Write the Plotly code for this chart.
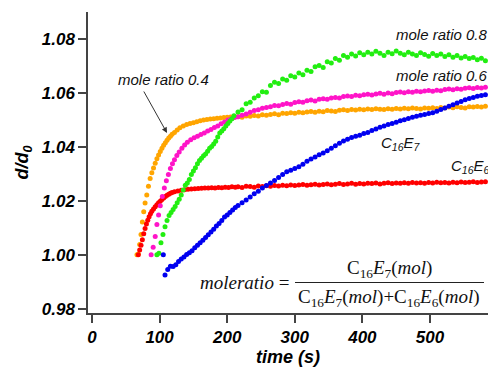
import plotly.graph_objects as go

# ---------------- data ----------------
T_LATE = [216, 222, 228, 234, 240, 246, 252, 258, 264, 270,
          276, 282, 288, 294, 300, 306, 312, 318, 324, 330,
          336, 342, 348, 354, 360, 366, 372, 378, 384, 390,
          396, 402, 408, 414, 420, 426, 432, 438, 444, 450,
          456, 462, 468, 474, 480, 486, 492, 498, 504, 510,
          516, 522, 528, 534, 540, 546, 552, 558, 564, 570,
          576, 582]

# mole ratio 0.4 (orange)
ORANGE_T_EARLY = [66.5, 68.5, 70.5, 72.5, 74.5, 76.5, 78.5, 81, 83.5, 86, 88.5, 91, 93.5, 96,
                  98.5, 101, 103.5, 106, 108.5, 111, 113.5, 116, 118.5,
                  122, 126, 130, 135, 140, 145, 150, 155, 160, 165, 170, 175, 180, 185, 190,
                  195, 200, 205, 210]
ORANGE_Y_EARLY = [1.0000, 1.0003, 1.0038, 1.0075, 1.0122, 1.0160, 1.0192, 1.0222, 1.0254, 1.0283,
                  1.0304, 1.0322, 1.0340, 1.0356, 1.0370, 1.0383, 1.0395, 1.0406, 1.0416, 1.0425,
                  1.0433, 1.0440, 1.0447,
                  1.0454, 1.0463, 1.0471, 1.0478, 1.0483, 1.0487, 1.0490, 1.0494, 1.0497, 1.0500,
                  1.0502, 1.0504, 1.0505, 1.0507, 1.0508, 1.0509, 1.0510, 1.0511, 1.0511]
ORANGE_Y_LATE = [1.0512, 1.0510, 1.0515, 1.0514, 1.0517, 1.0515, 1.0520, 1.0518, 1.0521, 1.0523,
                 1.0520, 1.0525, 1.0524, 1.0527, 1.0525, 1.0529, 1.0527, 1.0530, 1.0532, 1.0529,
                 1.0533, 1.0531, 1.0535, 1.0534, 1.0532, 1.0536, 1.0538, 1.0535, 1.0539, 1.0537,
                 1.0540, 1.0538, 1.0541, 1.0539, 1.0542, 1.0540, 1.0539, 1.0542, 1.0540, 1.0543,
                 1.0541, 1.0544, 1.0542, 1.0545, 1.0543, 1.0541, 1.0545, 1.0544, 1.0546, 1.0543,
                 1.0547, 1.0545, 1.0548, 1.0546, 1.0549, 1.0547, 1.0545, 1.0549, 1.0548, 1.0550,
                 1.0548, 1.0551]

# C16E6 (red)
RED_T_EARLY = [68.5, 70.5, 72.5, 74.5, 76.5, 78.5, 80.5, 82.5, 84.5, 86.5, 88.5, 91, 93.5, 96,
               98.5, 101, 103.5, 106, 108.5, 111, 113.5, 116, 118.5,
               122, 127, 132, 137, 142, 147, 152, 157, 162, 167, 172, 177, 182, 187, 192,
               197, 202, 207, 212]
RED_Y_EARLY = [1.0000, 1.0018, 1.0035, 1.0056, 1.0078, 1.0097, 1.0114, 1.0128, 1.0141, 1.0152,
               1.0161, 1.0170, 1.0178, 1.0186, 1.0193, 1.0199, 1.0205, 1.0211, 1.0216, 1.0221,
               1.0225, 1.0228, 1.0231,
               1.0234, 1.0237, 1.0239, 1.0241, 1.0243, 1.0244, 1.0245, 1.0246, 1.0247, 1.0248,
               1.0248, 1.0249, 1.0248, 1.0250, 1.0249, 1.0251, 1.0250, 1.0252, 1.0251]
RED_Y_LATE = [1.0252, 1.0250, 1.0254, 1.0253, 1.0251, 1.0255, 1.0253, 1.0256, 1.0254, 1.0257,
              1.0255, 1.0258, 1.0256, 1.0259, 1.0257, 1.0259, 1.0261, 1.0258, 1.0260, 1.0262,
              1.0259, 1.0261, 1.0263, 1.0260, 1.0262, 1.0264, 1.0261, 1.0263, 1.0265, 1.0262,
              1.0264, 1.0263, 1.0265, 1.0264, 1.0266, 1.0263, 1.0265, 1.0267, 1.0264, 1.0266,
              1.0265, 1.0267, 1.0265, 1.0268, 1.0266, 1.0267, 1.0265, 1.0268, 1.0266, 1.0269,
              1.0267, 1.0268, 1.0266, 1.0269, 1.0267, 1.0270, 1.0268, 1.0269, 1.0271, 1.0268,
              1.0270, 1.0271]

# mole ratio 0.6 (magenta)
MAGENTA_T_EARLY = [87.5, 90.5, 93.5, 96, 98.5, 101, 104, 107, 110, 113, 116, 119, 122, 125.5,
                   129, 133, 137, 141, 146, 151, 156, 161, 166, 171, 176, 181, 186, 191, 196,
                   201, 206, 211]
MAGENTA_Y_EARLY = [1.0000, 1.0028, 1.0068, 1.0112, 1.0148, 1.0182, 1.0216, 1.0248, 1.0275, 1.0298,
                   1.0320, 1.0338, 1.0353, 1.0368, 1.0381, 1.0395, 1.0407, 1.0418, 1.0427, 1.0434,
                   1.0440, 1.0446, 1.0452, 1.0459, 1.0465, 1.0472, 1.0478, 1.0486, 1.0493, 1.0500,
                   1.0505, 1.0509]
MAGENTA_Y_LATE = [1.0512, 1.0518, 1.0522, 1.0529, 1.0535, 1.0538, 1.0544, 1.0547, 1.0549, 1.0554,
                  1.0553, 1.0558, 1.0561, 1.0559, 1.0565, 1.0568, 1.0566, 1.0572, 1.0574, 1.0571,
                  1.0577, 1.0579, 1.0577, 1.0582, 1.0584, 1.0582, 1.0587, 1.0589, 1.0587, 1.0592,
                  1.0590, 1.0594, 1.0596, 1.0593, 1.0597, 1.0599, 1.0596, 1.0600, 1.0598, 1.0602,
                  1.0604, 1.0601, 1.0605, 1.0603, 1.0607, 1.0605, 1.0608, 1.0610, 1.0607, 1.0611,
                  1.0609, 1.0613, 1.0615, 1.0612, 1.0616, 1.0614, 1.0618, 1.0620, 1.0617, 1.0621,
                  1.0619, 1.0622]

# mole ratio 0.8 (green)
GREEN_T_EARLY = [96, 99, 102, 105, 108, 111, 114, 117, 120, 123, 126, 129, 132, 135, 138, 141,
                 144, 147, 150, 153, 156, 159, 162, 165, 168, 171, 174, 177, 180, 183, 186, 189,
                 192, 195, 198, 201, 204, 207, 210]
GREEN_Y_EARLY = [1.0000, 1.0006, 1.0045, 1.0075, 1.0104, 1.0127, 1.0146, 1.0157, 1.0168, 1.0179,
                 1.0193, 1.0206, 1.0222, 1.0240, 1.0258, 1.0266, 1.0279, 1.0298, 1.0311, 1.0323,
                 1.0338, 1.0350, 1.0358, 1.0367, 1.0374, 1.0384, 1.0395, 1.0402, 1.0411, 1.0421,
                 1.0437, 1.0452, 1.0459, 1.0468, 1.0478, 1.0487, 1.0496, 1.0505, 1.0516]
GREEN_Y_LATE = [1.0530, 1.0538, 1.0560, 1.0566, 1.0582, 1.0590, 1.0605, 1.0603, 1.0628, 1.0640,
                1.0636, 1.0652, 1.0648, 1.0664, 1.0660, 1.0675, 1.0668, 1.0685, 1.0680, 1.0698,
                1.0702, 1.0695, 1.0716, 1.0712, 1.0728, 1.0722, 1.0740, 1.0733, 1.0745, 1.0738,
                1.0750, 1.0742, 1.0752, 1.0745, 1.0755, 1.0748, 1.0740, 1.0752, 1.0746, 1.0756,
                1.0748, 1.0742, 1.0752, 1.0745, 1.0740, 1.0750, 1.0743, 1.0737, 1.0747, 1.0740,
                1.0745, 1.0736, 1.0742, 1.0733, 1.0740, 1.0730, 1.0736, 1.0728, 1.0732, 1.0724,
                1.0729, 1.0720]

# C16E7 (blue)
BLUE_T_EARLY = [105.5, 108, 112, 116, 120, 124, 128, 132, 136, 140, 144, 148, 152, 156, 160,
                164, 168, 172, 176, 180, 184, 188, 192, 196, 200, 204, 208, 212]
BLUE_Y_EARLY = [1.0000, 0.9925, 0.9945, 0.9957, 0.9956, 0.9963, 0.9975, 0.9984, 0.9992, 1.0001,
                1.0007, 1.0015, 1.0026, 1.0035, 1.0045, 1.0054, 1.0064, 1.0074, 1.0084, 1.0095,
                1.0107, 1.0116, 1.0127, 1.0140, 1.0148, 1.0157, 1.0166, 1.0175]
BLUE_Y_LATE = [1.0183, 1.0193, 1.0203, 1.0214, 1.0226, 1.0236, 1.0248, 1.0257, 1.0266, 1.0276,
               1.0287, 1.0298, 1.0308, 1.0314, 1.0320, 1.0327, 1.0336, 1.0347, 1.0355, 1.0363,
               1.0371, 1.0378, 1.0386, 1.0395, 1.0405, 1.0414, 1.0422, 1.0429, 1.0435, 1.0440,
               1.0444, 1.0450, 1.0454, 1.0461, 1.0467, 1.0473, 1.0478, 1.0483, 1.0487, 1.0492,
               1.0497, 1.0501, 1.0506, 1.0510, 1.0514, 1.0518, 1.0521, 1.0524, 1.0527, 1.0533,
               1.0539, 1.0545, 1.0551, 1.0557, 1.0563, 1.0569, 1.0575, 1.0580, 1.0584, 1.0588,
               1.0591, 1.0594]

X_TICKS = [0, 100, 200, 300, 400, 500]
Y_TICKS = [0.98, 1.00, 1.02, 1.04, 1.06, 1.08]

# ---------------- figure ----------------
W, H = 488, 367
ML, MR, MT, MB = 88, 0, 12, 54
PW, PH = W - ML - MR, H - MT - MB


def px(x):
    return (x - ML) / PW


def py(y):
    return (H - MB - y) / PH


series = [
    ("mole ratio 0.4", ORANGE_T_EARLY, ORANGE_Y_EARLY, ORANGE_Y_LATE, "#FFA500"),
    ("C16E6", RED_T_EARLY, RED_Y_EARLY, RED_Y_LATE, "#FF0000"),
    ("mole ratio 0.6", MAGENTA_T_EARLY, MAGENTA_Y_EARLY, MAGENTA_Y_LATE, "#FF14C8"),
    ("mole ratio 0.8", GREEN_T_EARLY, GREEN_Y_EARLY, GREEN_Y_LATE, "#22EE11"),
    ("C16E7", BLUE_T_EARLY, BLUE_Y_EARLY, BLUE_Y_LATE, "#0000F0"),
]

fig = go.Figure()
for name, te, ye, yl, col in series:
    fig.add_trace(go.Scatter(
        x=list(te) + list(T_LATE), y=list(ye) + list(yl),
        mode="markers", name=name, showlegend=False,
        marker=dict(size=5, color=col, line=dict(width=0)),
    ))

SANS = "Arial, 'Liberation Sans', sans-serif"
SERIF = "'Times New Roman', 'Liberation Serif', serif"
tickfont = dict(family=SANS, size=17, color="black", weight="bold", style="italic")
axcol = "#444444"

fig.update_xaxes(
    range=[-5.92, 585.8], tickvals=X_TICKS, ticks="outside", ticklen=8, tickwidth=1.5,
    tickcolor=axcol, showline=True, linecolor=axcol, linewidth=1.5, showgrid=False,
    zeroline=False, tickfont=tickfont,
    title=dict(text="time (s)", standoff=2,
               font=dict(family=SANS, size=18, color="black", weight="bold", style="italic")),
)
fig.update_yaxes(
    range=[0.97838, 1.0901], tickvals=Y_TICKS, tickformat=".2f", ticks="outside", ticklen=8,
    tickwidth=1.5, tickcolor=axcol, showline=True, linecolor=axcol, linewidth=1.5,
    showgrid=False, zeroline=False, tickfont=tickfont,
    title=dict(text="d/d<sub>0</sub>", standoff=8,
               font=dict(family=SANS, size=18, color="black", weight="bold", style="italic")),
)

lab = dict(family=SANS, size=15, color="#111111", style="italic")
ann = []


def text(x, y, s, font, xanchor="left"):
    ann.append(dict(xref="paper", yref="paper", x=px(x), y=py(y), text=s, showarrow=False,
                    xanchor=xanchor, yanchor="middle", font=font))


text(116, 79, "mole ratio 0.4", lab)
text(394, 35, "mole ratio 0.8", lab)
text(394, 76, "mole ratio 0.6", lab)
text(379, 143, "C<sub>16</sub>E<sub>7</sub>", lab)
text(449, 167, "C<sub>16</sub>E<sub>6</sub>", lab)

# arrow to the 0.4 curve
ann.append(dict(xref="paper", yref="paper", x=px(167), y=py(133), ax=-24, ay=-43,
                text="", showarrow=True, arrowhead=2, arrowsize=1.1, arrowwidth=1,
                arrowcolor="#333333"))

# formula
ff = dict(family=SERIF, size=19, color="#111111")
text(291, 282, "<i>moleratio</i> =", ff, xanchor="right")
text(389, 269, "C<sub>16</sub><i>E</i><sub>7</sub>(<i>mol</i>)", ff, xanchor="center")
text(389, 298, "C<sub>16</sub><i>E</i><sub>7</sub>(<i>mol</i>)+C<sub>16</sub><i>E</i><sub>6</sub>(<i>mol</i>)",
     ff, xanchor="center")

fig.add_shape(type="line", xref="paper", yref="paper", x0=px(295), x1=px(484),
              y0=py(282.5), y1=py(282.5), line=dict(color="#222222", width=1))

fig.update_layout(
    width=W, height=H, margin=dict(l=ML, r=MR, t=MT, b=MB),
    paper_bgcolor="white", plot_bgcolor="white", annotations=ann,
)

fig.write_html("out.html", config={"displayModeBar": False},
               post_script="document.body.style.margin='0';")
